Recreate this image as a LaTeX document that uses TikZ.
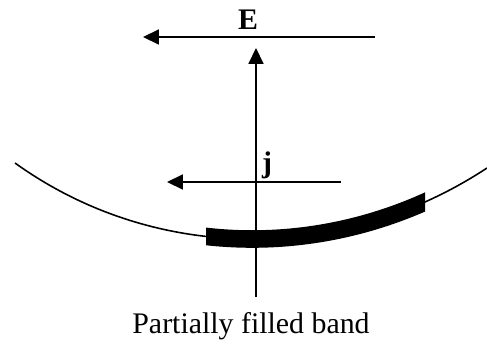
\documentclass[tikz,border=0pt]{standalone}
\usepackage{fontspec}
\setmainfont{Liberation Serif}
\usetikzlibrary{arrows.meta}

\begin{document}
\begin{tikzpicture}[
  x=0.02cm, y=-0.02cm,
  vec/.style={line width=0.9pt, -{Triangle[length=9pt, width=8.5pt]}},
  lbl/.style={inner sep=0pt, anchor=base, font=\fontsize{17}{20}\selectfont\bfseries},
  caption/.style={inner sep=0pt, anchor=base, font=\fontsize{17}{20}\selectfont},
  bandline/.style={line width=0.9pt},
  >=Stealth
]
  \useasboundingbox (0,0) rectangle (487,345);

  % Band curve
  \coordinate (bl) at (15,163);
  \coordinate (br) at (487,168);
  \def\bandpath{(bl) .. controls (155,263.5) and (342,263.5) .. (br)}
  \draw[bandline] \bandpath;

  % Filled part of the band
  \begin{scope}
    \clip (206,0) rectangle (425,345);
    \draw[line width=10pt] \bandpath;
  \end{scope}

  % Axis
  \coordinate (axbot) at (256,297);
  \coordinate (axtop) at (256,48);
  \draw[vec] (axbot) -- (axtop);

  % Field
  \coordinate (Estart) at (375,37);
  \coordinate (Eend) at (143,37);
  \draw[vec] (Estart) -- (Eend);
  \node[lbl] (E) at (248,29) {E};

  % Current
  \coordinate (jstart) at (341,182);
  \coordinate (jend) at (167,182);
  \draw[vec] (jstart) -- (jend);
  \node[lbl] (j) at (267,172) {j};

  % Caption
  \node[caption] (cap) at (251,333) {Partially filled band};
\end{tikzpicture}
\end{document}
